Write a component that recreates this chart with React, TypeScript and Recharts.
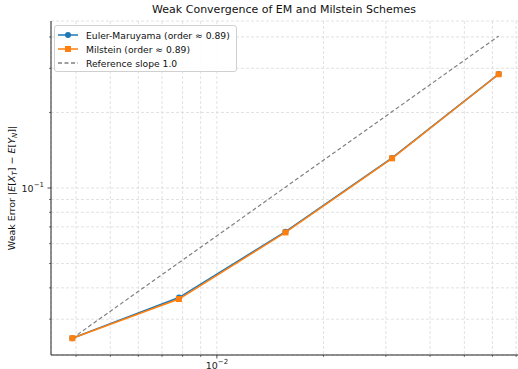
import { ComposedChart, Line, XAxis, YAxis, CartesianGrid } from "recharts";

const FONT = "DejaVu Sans, sans-serif";

// step sizes dt = 1/256 ... 1/16
const dtSteps = [0.00390625, 0.0078125, 0.015625, 0.03125, 0.0625];
const emErrors = [0.0252, 0.0366, 0.0670, 0.1318, 0.2845];
const milErrors = [0.0252, 0.0361, 0.0665, 0.1313, 0.2840];
const refSlope = [0.0252, 0.0504, 0.1008, 0.2016, 0.4032];

const xTicks = [0.004, 0.005, 0.006, 0.007, 0.008, 0.009, 0.01, 0.02, 0.03, 0.04, 0.05, 0.06, 0.07];
const xMajor = [0.01];
const yTicks = [0.03, 0.04, 0.05, 0.06, 0.07, 0.08, 0.09, 0.1, 0.2, 0.3, 0.4];
const yMajor = [0.1];

const xDomain = [0.0034, 0.0718];
const yDomain = [0.0216, 0.463];

const EM_COLOR = "#1f77b4";
const MIL_COLOR = "#ff7f0e";
const REF_COLOR = "#808080";

const data = dtSteps.map((dt, i) => ({
  dt,
  em: emErrors[i],
  mil: milErrors[i],
  ref: refSlope[i],
}));

const legendItems = [
  { label: "Euler-Maruyama (order \u2248 0.89)", color: EM_COLOR, marker: "circle" },
  { label: "Milstein (order \u2248 0.89)", color: MIL_COLOR, marker: "square" },
  { label: "Reference slope 1.0", color: REF_COLOR, marker: "dash" },
];

function XTick(props: any) {
  const { x, y, payload } = props;
  const major = xMajor.includes(payload.value);
  return (
    <g>
      <line x1={x} x2={x} y1={y} y2={y + (major ? 3.5 : 2)} stroke="#222" strokeWidth={major ? 0.8 : 0.6} />
      {major && (
        <text x={x} y={y + 13.5} textAnchor="middle" fontSize={9.5} fontFamily={FONT} fill="#222">
          10<tspan dy={-4.5} fontSize={7}>{"\u22122"}</tspan>
        </text>
      )}
    </g>
  );
}

function YTick(props: any) {
  const { x, y, payload } = props;
  const major = yMajor.includes(payload.value);
  return (
    <g>
      <line x1={x} x2={x - (major ? 3.5 : 2)} y1={y} y2={y} stroke="#222" strokeWidth={major ? 0.8 : 0.6} />
      {major && (
        <text x={x - 7} y={y + 3.5} textAnchor="end" fontSize={9.5} fontFamily={FONT} fill="#222">
          10<tspan dy={-4.5} fontSize={7}>{"\u22121"}</tspan>
        </text>
      )}
    </g>
  );
}

const circleDot = (props: any) => (
  <circle key={props.index} cx={props.cx} cy={props.cy} r={3} fill={EM_COLOR} />
);
const squareDot = (props: any) => (
  <rect key={props.index} x={props.cx - 3} y={props.cy - 3} width={6} height={6} fill={MIL_COLOR} />
);

export default function App() {
  return (
    <div style={{ position: "absolute", left: 0, top: 0, width: 518, height: 369, background: "#fff", fontFamily: FONT }}>
      <div style={{ position: "absolute", left: 0, top: 3, width: 568, textAlign: "center", fontSize: 11, color: "#111" }}>
        Weak Convergence of EM and Milstein Schemes
      </div>
      <ComposedChart width={518} height={369} data={data} margin={{ top: 21, right: -2, bottom: 0, left: 0 }}>
        <CartesianGrid stroke="#dadada" strokeDasharray="3 2" strokeWidth={0.8} />
        <XAxis
          dataKey="dt"
          type="number"
          scale="log"
          domain={xDomain}
          allowDataOverflow
          ticks={xTicks}
          interval={0}
          tick={<XTick />}
          tickSize={0}
          tickMargin={0}
          tickLine={false}
          axisLine={{ stroke: "#222", strokeWidth: 1 }}
          height={14}
        />
        <XAxis
          xAxisId="top"
          orientation="top"
          type="number"
          scale="log"
          domain={xDomain}
          allowDataOverflow
          tick={false}
          tickLine={false}
          axisLine={{ stroke: "#222", strokeWidth: 1 }}
          height={0}
        />
        <YAxis
          type="number"
          scale="log"
          domain={yDomain}
          allowDataOverflow
          ticks={yTicks}
          interval={0}
          tick={<YTick />}
          tickSize={0}
          tickMargin={0}
          tickLine={false}
          axisLine={{ stroke: "#222", strokeWidth: 1 }}
          width={51}
        />
        <YAxis
          yAxisId="right"
          orientation="right"
          type="number"
          scale="log"
          domain={yDomain}
          allowDataOverflow
          tick={false}
          tickLine={false}
          axisLine={{ stroke: "#222", strokeWidth: 1 }}
          width={0}
        />
        <Line dataKey="em" stroke={EM_COLOR} strokeWidth={1.5} dot={circleDot} isAnimationActive={false} />
        <Line dataKey="mil" stroke={MIL_COLOR} strokeWidth={1.5} dot={squareDot} isAnimationActive={false} />
        <Line dataKey="ref" stroke={REF_COLOR} strokeWidth={1.2} strokeDasharray="4 2.5" dot={false} isAnimationActive={false} />
      </ComposedChart>
      <svg style={{ position: "absolute", left: 0, top: 0 }} width={30} height={369}>
        <text transform="translate(15 188) rotate(-90)" textAnchor="middle" fontSize={9.5} fontFamily={FONT} fill="#111">
          Weak Error |<tspan fontStyle="italic">E</tspan>[<tspan fontStyle="italic">X</tspan>
          <tspan fontSize={7} fontStyle="italic" dy={2}>T</tspan>
          <tspan dy={-2}>] − </tspan>
          <tspan fontStyle="italic">E</tspan>[<tspan fontStyle="italic">Y</tspan>
          <tspan fontSize={7} fontStyle="italic" dy={2}>N</tspan>
          <tspan dy={-2}>]|</tspan>
        </text>
      </svg>
      <div
        style={{
          position: "absolute",
          left: 54,
          top: 25,
          width: 181,
          height: 45,
          border: "1px solid #d0d0d0",
          borderRadius: 3,
          background: "rgba(255,255,255,0.85)",
          fontSize: 9.2,
          color: "#111",
        }}
      >
        {legendItems.map((it, i) => (
          <div key={it.label} style={{ position: "absolute", left: 2, top: 3 + i * 14, height: 12, display: "flex", alignItems: "center" }}>
            <svg width={24} height={12}>
              <line
                x1={1}
                x2={21}
                y1={6}
                y2={6}
                stroke={it.color}
                strokeWidth={1.5}
                strokeDasharray={it.marker === "dash" ? "4 2.5" : undefined}
              />
              {it.marker === "circle" && <circle cx={11} cy={6} r={3} fill={it.color} />}
              {it.marker === "square" && <rect x={8} y={3} width={6} height={6} fill={it.color} />}
            </svg>
            <span style={{ marginLeft: 5, whiteSpace: "nowrap" }}>{it.label}</span>
          </div>
        ))}
      </div>
    </div>
  );
}
